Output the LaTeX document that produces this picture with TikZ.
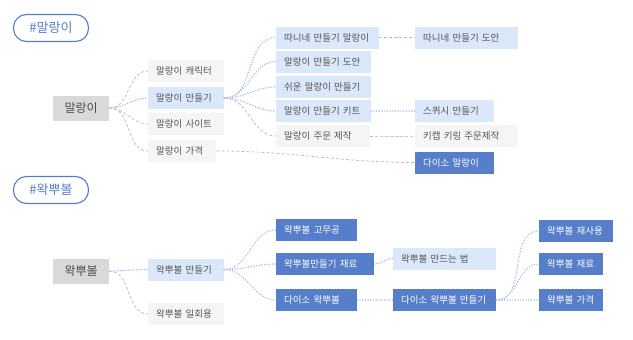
\documentclass[tikz,border=0pt]{standalone}
\usepackage{fontspec}
\usepackage{tikz}
\usetikzlibrary{positioning}
\newfontfamily\kofont{Noto Sans CJK KR}
\definecolor{tagblue}{RGB}{84,124,205}
\definecolor{rootgray}{RGB}{217,217,217}
\definecolor{lightgray}{RGB}{245,245,245}
\definecolor{lightblue}{RGB}{219,232,250}
\definecolor{darkblue}{RGB}{86,126,202}
\definecolor{dotblue}{RGB}{170,190,238}
\definecolor{dashgray}{RGB}{185,185,185}
\definecolor{txtgray}{RGB}{85,85,85}

\begin{document}
\begin{tikzpicture}[
    x=1pt,y=-1pt,
    box/.style={anchor=west,inner xsep=8pt,inner ysep=0pt,minimum height=22pt,align=left,text=txtgray,font=\kofont\fontsize{9.5}{11}\selectfont},
    gbox/.style={box,fill=lightgray},
    bbox/.style={box,fill=lightblue},
    dbox/.style={box,fill=darkblue,text=white},
    root/.style={box,fill=rootgray,minimum height=25pt,align=center,text=black!70,font=\kofont\fontsize{12}{14}\selectfont},
    tag/.style={draw=tagblue,line width=1.1pt,rounded corners=13pt,minimum width=75pt,minimum height=27pt,text=tagblue,font=\kofont\fontsize{13}{15}\selectfont},
    gl/.style={draw=dashgray,line width=0.7pt,dash pattern=on 3pt off 2pt},
    bl/.style={draw=dotblue,line width=1.7pt,dash pattern=on 0pt off 2.7pt,line cap=round}
]
\useasboundingbox (0,0) rectangle (633,340);
% #말랑이
\node[tag] (mtag) at (51,28) {\#말랑이};
\node[root,text width=40pt] (mroot) at (53,108) {말랑이};
\node[gbox,text width=60pt] (mchar)  at (148,71)  {말랑이 캐릭터};
\node[bbox,text width=60pt] (mmake)  at (148,98)  {말랑이 만들기};
\node[gbox,text width=60pt] (msite)  at (148,124) {말랑이 사이트};
\node[gbox,text width=52pt] (mprice) at (148,151) {말랑이 가격};
\node[bbox,text width=87pt] (mdani)  at (276,37.5) {따니네 만들기 말랑이};
\node[bbox,text width=79pt] (mdoan)  at (276,61.5) {말랑이 만들기 도안};
\node[bbox,text width=79pt] (measy)  at (276,87)  {쉬운 말랑이 만들기};
\node[bbox,text width=79pt] (mkit)   at (276,111) {말랑이 만들기 키트};
\node[gbox,text width=78pt] (morder) at (276,136) {말랑이 주문 제작};
\node[bbox,text width=87pt] (mdanidoan) at (415,37.5) {따니네 만들기 도안};
\node[bbox,text width=63pt] (msquishy)  at (415,111)  {스퀴시 만들기};
\node[gbox,text width=87pt] (mkeycap)   at (415,136)  {키캡 키링 주문제작};
\node[dbox,text width=63pt] (mdaiso)    at (415,162.5) {다이소 말랑이};
\foreach \a/\b in {mroot/mchar,mroot/msite,mroot/mprice,mmake/morder,mdani/mdanidoan,morder/mkeycap,mprice/mdaiso}
    \draw[gl] (\a.east) to[out=0,in=180] (\b.west);
\foreach \a/\b in {mroot/mmake,mmake/mdani,mmake/mdoan,mmake/measy,mmake/mkit,mkit/msquishy}
    \draw[bl] (\a.east) to[out=0,in=180] (\b.west);
% #왁뿌볼
\node[tag] (wtag) at (51,190) {\#왁뿌볼};
\node[root,text width=40pt] (wroot) at (53,271) {왁뿌볼};
\node[bbox,text width=60pt] (wmake)  at (148,269.5) {왁뿌볼 만들기};
\node[gbox,text width=60pt] (wonce)  at (148,314)   {왁뿌볼 일회용};
\node[dbox,text width=65pt] (wball)  at (276,230)   {왁뿌볼 고무공};
\node[dbox,text width=82pt] (wmat)   at (276,264)   {왁뿌볼만들기 재료};
\node[dbox,text width=65pt] (wdaiso) at (276,300)   {다이소 왁뿌볼};
\node[bbox,text width=87pt] (whow)   at (393,258.5) {왁뿌볼 만드는 법};
\node[dbox,text width=87pt] (wdaisomake) at (393,300) {다이소 왁뿌볼 만들기};
\node[dbox,text width=58pt] (wreuse) at (539,231) {왁뿌볼 재사용};
\node[dbox,text width=48pt] (wmat2)  at (539,264) {왁뿌볼 재료};
\node[dbox,text width=48pt] (wprice) at (539,300) {왁뿌볼 가격};
\draw[gl] (wroot.east) to[out=0,in=180] (wonce.west);
\foreach \a/\b in {wroot/wmake,wmake/wball,wmake/wmat,wmake/wdaiso,wmat/whow,wdaiso/wdaisomake,wdaisomake/wreuse,wdaisomake/wmat2,wdaisomake/wprice}
    \draw[bl] (\a.east) to[out=0,in=180] (\b.west);
\end{tikzpicture}
\end{document}
